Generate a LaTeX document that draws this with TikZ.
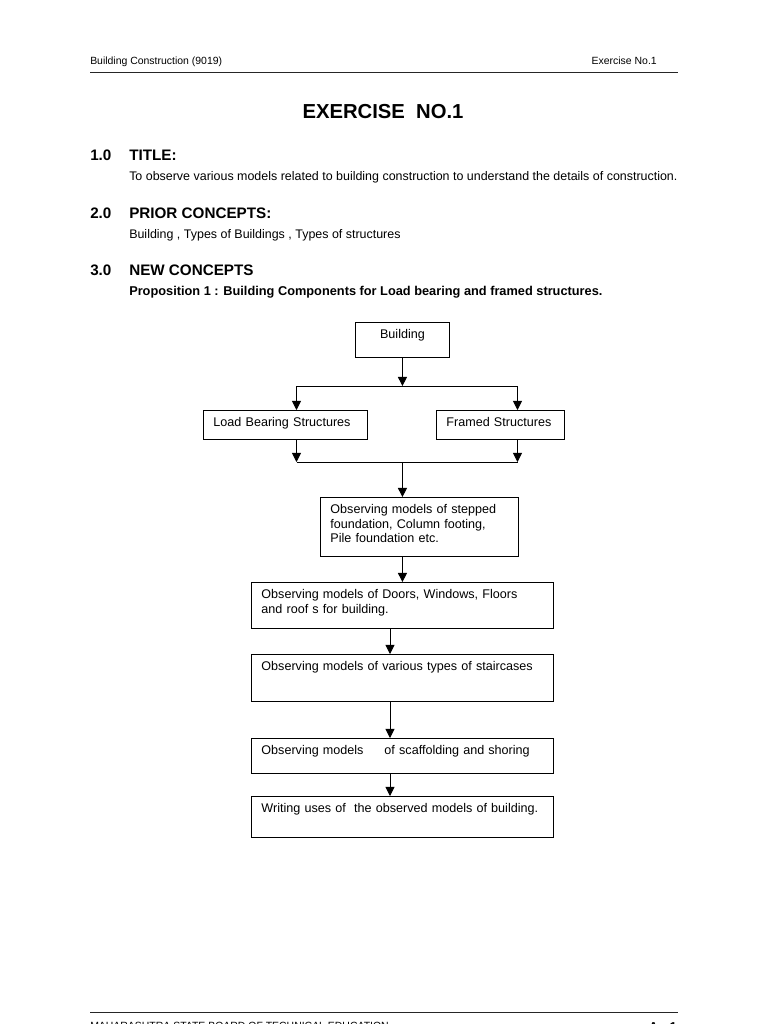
\documentclass[tikz,border=0pt]{standalone}
\usepackage{fontspec}
\setmainfont{Liberation Sans}
\usepackage{tikz}
\usetikzlibrary{calc,arrows.meta}

\newdimen\pxu
\pxu=0.775pt
\newcommand{\hdfont}{\fontsize{8.1}{9.5}\selectfont}
\newcommand{\bodyfont}{\fontsize{9.65}{11.2}\selectfont}
\newcommand{\boxfont}{\fontsize{9.75}{11.2}\selectfont}
\newcommand{\secfont}{\fontsize{11.8}{14}\bfseries\selectfont}
\newcommand{\titfont}{\fontsize{15.7}{18}\bfseries\selectfont}
\newcommand{\propfont}{\fontsize{9.9}{12}\bfseries\selectfont}
\newcommand{\pgfont}{\fontsize{10}{12}\bfseries\selectfont}

\tikzset{
  lbl/.style={anchor=base west, inner sep=0pt},
  box/.style 2 args={draw, line width=0.7pt, anchor=north west, inner xsep=10\pxu, inner ysep=0pt,
    text width=#1\pxu, text height=16.5\pxu, text depth=#2\pxu, align=left, font=\boxfont},
  arr/.style={line width=0.7pt, -{Triangle[length=7pt,width=7pt]}},
  link/.style={line width=0.7pt},
  rule/.style={line width=1.2pt, black!85},
}

\begin{document}
\begin{tikzpicture}[x=0.775pt, y=-0.775pt]
    \useasboundingbox (0,0) rectangle (768,1024);
    \clip (0,0) rectangle (768,1024);

    % page head
    \node[lbl, font=\hdfont] (headL) at (90,64) {Building Construction (9019)};
    \node[lbl, anchor=base east, font=\hdfont] (headR) at (657,64) {Exercise No.1};
    \draw[rule] (90,72.3) -- (678,72.3);

    % headings
    \node[anchor=base, inner sep=0pt, font=\titfont] (exno) at (383,118.3) {EXERCISE\ \ NO.1};
    \node[lbl, font=\secfont] (num1) at (90,160.7) {1.0};
    \node[lbl, font=\secfont] (head1) at (129,160.7) {TITLE:};
    \node[lbl, font=\bodyfont] (text1) at (129,180.7) {To observe various models related to building construction to understand the details of construction.};
    \node[lbl, font=\secfont] (num2) at (90,218.3) {2.0};
    \node[lbl, font=\secfont] (head2) at (129,218.3) {PRIOR CONCEPTS:};
    \node[lbl, font=\bodyfont] (text2) at (129,238.3) {Building , Types of Buildings , Types of structures};
    \node[lbl, font=\secfont] (num3) at (90,275) {3.0};
    \node[lbl, font=\secfont] (head3) at (129,275) {NEW CONCEPTS};
    \node[lbl, font=\propfont] (text3) at (129,295) {Proposition 1 : Building Components for Load bearing and framed structures.};

    % flow chart
    \node[box={74}{18.5}, align=center] (bldg) at (355,322) {Building};
    \node[box={144}{12.5}] (lb) at (203,410) {Load Bearing Structures};
    \node[box={108}{12.5}] (fs) at (436,410) {Framed Structures};
    \node[box={178}{42.5}] (found) at (320,497) {Observing models of stepped\\foundation, Column footing,\\Pile foundation etc.};
    \node[box={282}{29.5}] (doors) at (251,582) {Observing models of Doors, Windows, Floors\\and roof s for building.};
    \node[box={282}{30.5}] (stairs) at (251,654) {Observing models of various types of staircases};
    \node[box={282}{18.5}] (scaf) at (251,738) {Observing models\hspace{13pt} of scaffolding and shoring};
    \node[box={282}{24.5}] (uses) at (251,796) {Writing uses of\ \ the observed models of building.};

    \coordinate (lbT) at (296.5,386);
    \coordinate (fsT) at (517.5,386);
    \coordinate (split) at (bldg.south |- lbT);
    \coordinate (lbB) at (296.5,462);
    \coordinate (fsB) at (517.5,462);
    \coordinate (join) at (bldg.south |- lbB);
    \coordinate (spine) at (390,700);

    \draw[arr] (bldg.south) -- (split);
    \draw[link] (lbT) -- (fsT);
    \draw[arr] (lbT) -- (lbT |- lb.north);
    \draw[arr] (fsT) -- (fsT |- fs.north);
    \draw[arr] (lb.south -| lbB) -- (lbB);
    \draw[arr] (fs.south -| fsB) -- (fsB);
    \draw[link] (lbB) -- (fsB);
    \draw[arr] (join) -- (join |- found.north);
    \draw[arr] (found.south -| join) -- (join |- doors.north);
    \draw[arr] (doors.south -| spine) -- (stairs.north -| spine);
    \draw[arr] (stairs.south -| spine) -- (scaf.north -| spine);
    \draw[arr] (scaf.south -| spine) -- (uses.north -| spine);

    % page foot
    \draw[rule] (90,1012.7) -- (678,1012.7);
    \node[lbl, font=\hdfont] (foot) at (90,1029.5) {MAHARASHTRA STATE BOARD OF TECHNICAL EDUCATION};
    \node[lbl, anchor=base east, font=\pgfont] (pageno) at (677,1031.5) {A - 1};
\end{tikzpicture}
\end{document}
